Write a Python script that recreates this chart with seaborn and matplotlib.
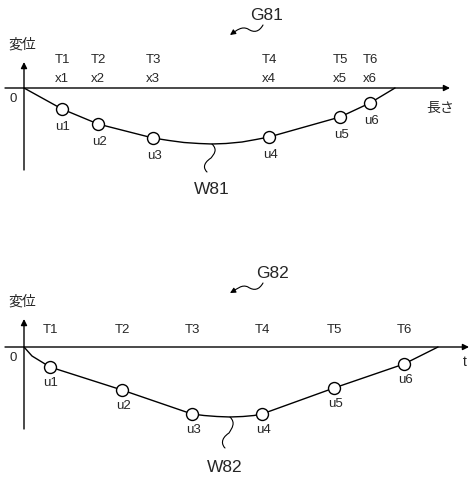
import numpy as np
import pandas as pd
import matplotlib
matplotlib.use("Agg")
import matplotlib.pyplot as plt
from matplotlib.path import Path
from matplotlib.patches import FancyArrowPatch
import seaborn as sns

# ---- data (1 unit ~ 1 px, origin at the axes crossing) ----
# G81 : displacement vs length
top_labels_t = ["T1", "T2", "T3", "T4", "T5", "T6"]
top_labels_x = ["x1", "x2", "x3", "x4", "x5", "x6"]
top_labels_u = ["u1", "u2", "u3", "u4", "u5", "u6"]
top_pos = [38, 74, 129, 245, 316, 346]
top_u = [-21, -36, -50, -49, -29, -15]
# curve W81 (origin, points, sag between u3/u4, end)
top_curve_x = [0, 38, 74, 129, 145, 160, 175, 188, 202, 218, 232, 245, 316, 346, 371]
top_curve_y = [0, -21, -36, -50, -52.5, -54.5, -55.5, -56, -55.5, -54, -51.5, -49, -29, -15, 0]

# G82 : displacement vs time
bot_labels_t = ["T1", "T2", "T3", "T4", "T5", "T6"]
bot_labels_u = ["u1", "u2", "u3", "u4", "u5", "u6"]
bot_pos = [26, 98, 168, 238, 310, 380]
bot_u = [-20, -43, -67, -67, -41, -17]
bot_curve_x = [0, 8, 26, 98, 168, 180, 193, 206, 219, 230, 238, 310, 380, 414]
bot_curve_y = [0, -9, -20, -43, -67, -68.5, -69.5, -70, -69.5, -68.5, -67, -41, -17, 0]

sns.set_theme(style="white")
plt.rcParams["font.family"] = ["Liberation Sans", "Noto Sans CJK JP"]

fig = plt.figure(figsize=(4.73, 4.82), dpi=100)
ax1 = fig.add_axes([0, 0.5, 1, 0.5])
ax2 = fig.add_axes([0, 0, 1, 0.5])
ax1.set_xlim(-24, 449)
ax1.set_ylim(-153, 88)
ax2.set_xlim(-24, 449)
ax2.set_ylim(-135, 106)

arr = dict(arrowstyle="-|>", color="black", lw=1.0, mutation_scale=9, shrinkA=0, shrinkB=0)


def squiggle(ax, pts, arrow=False):
    codes = [Path.MOVETO] + [Path.CURVE4] * 6
    p = FancyArrowPatch(path=Path(pts, codes),
                        arrowstyle="-|>" if arrow else "-",
                        mutation_scale=8, color="black", lw=0.8)
    ax.add_patch(p)


def panel(ax, pos, u, cx, cy, tlabels, ulabels, xlabels, xend, xname, ty, ylab_y,
          u_off, title, title_xy, g_pts, w_pts, wname, wxy):
    ax.set_axis_off()
    # axes
    ax.annotate("", xy=(xend, 0), xytext=(-19, 0), arrowprops=arr)
    ax.annotate("", xy=(0, ylab_y - 17), xytext=(0, -82), arrowprops=arr)
    ax.text(-2, ylab_y, "変位", ha="center", va="center", fontsize=10)
    ax.text(-11, -11, "0", ha="center", va="center", fontsize=9.5)
    ax.text(xname[1], xname[2], xname[0], ha="center", va="center", fontsize=10)
    # curve and points
    sns.lineplot(x=cx, y=cy, ax=ax, color="black", lw=1.0, sort=False)
    sns.scatterplot(x=pos, y=u, ax=ax, s=74, facecolor="white",
                    edgecolor="black", linewidth=1.0, zorder=3)
    for i in range(len(pos)):
        ax.text(pos[i], ty, tlabels[i], ha="center", va="center", fontsize=9.5)
        if xlabels is not None:
            ax.text(pos[i], ty - 19, xlabels[i], ha="center", va="center", fontsize=9.5)
        ax.text(pos[i] + 1, u[i] - u_off, ulabels[i], ha="center", va="center", fontsize=9.5)
    ax.text(title_xy[0], title_xy[1], title, ha="center", va="center", fontsize=12.5)
    squiggle(ax, g_pts, arrow=True)
    squiggle(ax, w_pts)
    ax.text(wxy[0], wxy[1], wname, ha="center", va="center", fontsize=12.5)


panel(ax1, top_pos, top_u, top_curve_x, top_curve_y, top_labels_t, top_labels_u,
      top_labels_x, 426, ("長さ", 416, -20), 28, 43, 18, "G81", (243, 73),
      [(239, 63), (235, 56), (230, 55), (224, 59), (218, 62), (213, 58), (206, 53)],
      [(188, -56), (194, -62), (190, -66), (187, -70), (178, -76), (180, -81), (183, -84)],
      "W81", (188, -102))

panel(ax2, bot_pos, bot_u, bot_curve_x, bot_curve_y, bot_labels_t, bot_labels_u,
      None, 445, ("t", 441, -15), 17, 45, 16, "G82", (248, 74),
      [(239, 64), (235, 57), (230, 56), (224, 60), (218, 63), (213, 58), (206, 54)],
      [(206, -70), (212, -76), (208, -81), (205, -86), (196, -92), (198, -98), (201, -101)],
      "W82", (201, -120))

fig.savefig("out.png", dpi=100)
